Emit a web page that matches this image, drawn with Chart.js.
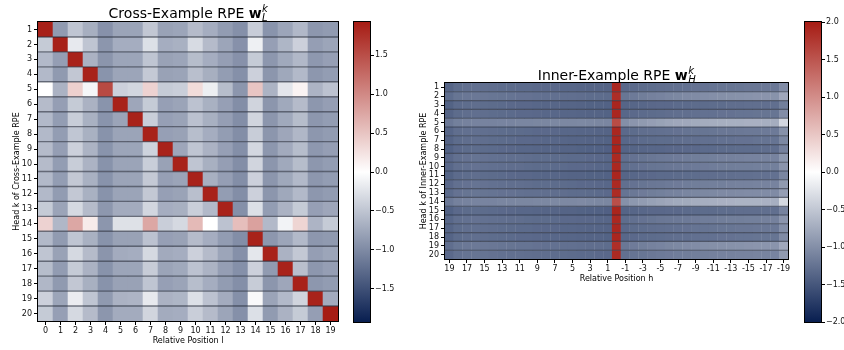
<!DOCTYPE html>
<html>
<head>
<meta charset="utf-8">
<title>RPE weights per head</title>
<script src="https://cdn.jsdelivr.net/npm/chart.js@4.4.1/dist/chart.umd.min.js"></script>
<style>
  html, body { margin: 0; padding: 0; background: #fff; }
  #wrap { position: relative; width: 844px; height: 350px; overflow: hidden; }
  #wrap canvas { position: absolute; top: 0; }
</style>
</head>
<body>
<div id="wrap">
  <canvas id="crossMap" width="345" height="350" style="left:0px"></canvas>
  <canvas id="crossBar" width="60" height="350" style="left:345px"></canvas>
  <canvas id="innerMap" width="390" height="350" style="left:405px"></canvas>
  <canvas id="innerBar" width="49" height="350" style="left:795px"></canvas>
</div>
<script>
// ---- data ----
const crossPositions = [0, 1, 2, 3, 4, 5, 6, 7, 8, 9, 10, 11, 12, 13, 14, 15, 16, 17, 18, 19];
const crossHeads = [1, 2, 3, 4, 5, 6, 7, 8, 9, 10, 11, 12, 13, 14, 15, 16, 17, 18, 19, 20];
// one row per head k, one value per relative position l
const crossValues = [
  [1.90, -0.86, -0.50, -0.69, -0.94, -0.78, -0.78, -0.48, -0.80, -0.77, -0.58, -0.70, -0.85, -0.95, -0.43, -0.92, -0.77, -0.61, -0.89, -0.86],
  [-0.45, 1.90, -0.19, -0.50, -0.90, -0.70, -0.70, -0.27, -0.70, -0.67, -0.31, -0.58, -0.77, -0.94, -0.13, -0.82, -0.63, -0.40, -0.83, -0.77],
  [-0.60, -0.83, 1.88, -0.66, -0.91, -0.77, -0.77, -0.50, -0.80, -0.77, -0.57, -0.70, -0.83, -0.94, -0.45, -0.89, -0.74, -0.61, -0.88, -0.82],
  [-0.60, -0.87, -0.48, 1.88, -0.92, -0.77, -0.77, -0.46, -0.80, -0.78, -0.55, -0.69, -0.84, -0.95, -0.40, -0.90, -0.75, -0.60, -0.89, -0.84],
  [0.00, -0.66, 0.40, -0.08, 1.54, -0.40, -0.35, 0.38, -0.45, -0.42, 0.30, -0.14, -0.57, -0.90, 0.49, -0.65, -0.22, 0.10, -0.65, -0.52],
  [-0.58, -0.83, -0.45, -0.66, -0.92, 1.88, -0.76, -0.45, -0.82, -0.78, -0.52, -0.67, -0.82, -0.97, -0.37, -0.90, -0.74, -0.58, -0.89, -0.83],
  [-0.60, -0.84, -0.43, -0.67, -0.92, -0.78, 1.88, -0.42, -0.82, -0.79, -0.53, -0.68, -0.83, -0.97, -0.36, -0.90, -0.74, -0.57, -0.89, -0.84],
  [-0.60, -0.84, -0.49, -0.67, -0.93, -0.78, -0.78, 1.88, -0.82, -0.80, -0.56, -0.70, -0.84, -0.97, -0.43, -0.90, -0.76, -0.62, -0.89, -0.85],
  [-0.58, -0.83, -0.40, -0.65, -0.92, -0.77, -0.77, -0.38, 1.88, -0.76, -0.50, -0.66, -0.82, -0.96, -0.34, -0.89, -0.73, -0.57, -0.88, -0.83],
  [-0.58, -0.84, -0.43, -0.65, -0.93, -0.78, -0.78, -0.42, -0.80, 1.88, -0.50, -0.68, -0.83, -0.97, -0.36, -0.90, -0.74, -0.57, -0.89, -0.84],
  [-0.60, -0.84, -0.47, -0.67, -0.93, -0.78, -0.78, -0.46, -0.82, -0.78, 1.88, -0.68, -0.83, -0.97, -0.40, -0.90, -0.75, -0.60, -0.89, -0.84],
  [-0.60, -0.85, -0.47, -0.67, -0.93, -0.78, -0.78, -0.47, -0.82, -0.79, -0.55, 1.88, -0.84, -0.97, -0.40, -0.90, -0.75, -0.60, -0.89, -0.85],
  [-0.45, -0.78, -0.33, -0.58, -0.89, -0.72, -0.72, -0.35, -0.70, -0.68, -0.42, -0.60, 1.88, -0.95, -0.27, -0.84, -0.66, -0.45, -0.82, -0.76],
  [0.38, -0.62, 0.75, 0.17, -0.90, -0.26, -0.26, 0.75, -0.42, -0.33, 0.59, 0.00, -0.52, 0.55, 0.80, -0.60, -0.10, 0.36, -0.64, -0.45],
  [-0.60, -0.86, -0.50, -0.67, -0.93, -0.80, -0.80, -0.52, -0.82, -0.80, -0.58, -0.70, -0.85, -0.97, 1.88, -0.89, -0.77, -0.60, -0.89, -0.87],
  [-0.50, -0.80, -0.33, -0.58, -0.91, -0.72, -0.70, -0.33, -0.73, -0.70, -0.40, -0.58, -0.77, -0.95, -0.21, 1.88, -0.66, -0.47, -0.83, -0.77],
  [-0.57, -0.85, -0.45, -0.66, -0.93, -0.77, -0.77, -0.44, -0.78, -0.74, -0.52, -0.65, -0.83, -0.95, -0.40, -0.86, 1.88, -0.55, -0.89, -0.83],
  [-0.62, -0.87, -0.48, -0.68, -0.93, -0.80, -0.80, -0.50, -0.82, -0.78, -0.56, -0.70, -0.85, -0.96, -0.44, -0.90, -0.76, 1.88, -0.89, -0.85],
  [-0.40, -0.77, -0.16, -0.50, -0.87, -0.66, -0.64, -0.19, -0.66, -0.63, -0.27, -0.52, -0.72, -0.95, -0.05, -0.78, -0.60, -0.37, 1.88, -0.72],
  [-0.45, -0.82, -0.33, -0.58, -0.90, -0.72, -0.72, -0.36, -0.72, -0.70, -0.42, -0.58, -0.77, -0.95, -0.27, -0.86, -0.66, -0.45, -0.83, 1.93]
];

const innerPositions = [19, 18, 17, 16, 15, 14, 13, 12, 11, 10, 9, 8, 7, 6, 5, 4, 3, 2, 1, 0,
  -1, -2, -3, -4, -5, -6, -7, -8, -9, -10, -11, -12, -13, -14, -15, -16, -17, -18, -19];
const innerHeads = [1, 2, 3, 4, 5, 6, 7, 8, 9, 10, 11, 12, 13, 14, 15, 16, 17, 18, 19, 20];
// one row per head k, one value per relative position h (19 ... -19)
const innerValues = [
  [-1.37,-1.30,-1.28,-1.27,-1.28,-1.29,-1.30,-1.31,-1.32,-1.32,-1.33,-1.34,-1.34,-1.35,-1.35,-1.36,-1.37,-1.37,-1.38, 1.90, -1.34,-1.32,-1.31,-1.30,-1.29,-1.28,-1.27,-1.26,-1.25,-1.25,-1.24,-1.23,-1.23,-1.22,-1.21,-1.21,-1.20,-1.20,-1.02],
  [-1.30,-1.23,-1.21,-1.20,-1.21,-1.22,-1.23,-1.24,-1.25,-1.25,-1.26,-1.27,-1.27,-1.28,-1.28,-1.29,-1.30,-1.30,-1.31, 1.84, -1.22,-1.18,-1.15,-1.12,-1.10,-1.08,-1.06,-1.04,-1.03,-1.01,-1.00,-0.99,-0.98,-0.97,-0.96,-0.95,-0.95,-0.96,-0.78],
  [-1.39,-1.32,-1.30,-1.29,-1.30,-1.31,-1.32,-1.33,-1.34,-1.34,-1.35,-1.36,-1.36,-1.37,-1.37,-1.38,-1.39,-1.39,-1.40, 1.91, -1.37,-1.36,-1.35,-1.34,-1.33,-1.33,-1.32,-1.32,-1.31,-1.31,-1.30,-1.30,-1.29,-1.29,-1.28,-1.28,-1.28,-1.28,-1.14],
  [-1.38,-1.31,-1.29,-1.28,-1.29,-1.30,-1.31,-1.32,-1.33,-1.33,-1.34,-1.35,-1.35,-1.36,-1.36,-1.37,-1.38,-1.38,-1.39, 1.90, -1.35,-1.33,-1.32,-1.31,-1.30,-1.29,-1.28,-1.28,-1.27,-1.26,-1.26,-1.25,-1.25,-1.24,-1.24,-1.23,-1.23,-1.23,-1.01],
  [-1.20,-1.13,-1.11,-1.10,-1.10,-1.10,-1.09,-1.09,-1.08,-1.08,-1.07,-1.07,-1.06,-1.06,-1.06,-1.05,-1.06,-1.07,-1.08, 1.58, -1.00,-0.94,-0.90,-0.86,-0.83,-0.80,-0.78,-0.77,-0.75,-0.74,-0.73,-0.72,-0.71,-0.71,-0.70,-0.70,-0.71,-0.73,-0.36],
  [-1.36,-1.29,-1.27,-1.27,-1.28,-1.29,-1.30,-1.31,-1.31,-1.32,-1.33,-1.33,-1.34,-1.35,-1.35,-1.36,-1.36,-1.37,-1.38, 1.90, -1.33,-1.31,-1.29,-1.28,-1.27,-1.26,-1.25,-1.24,-1.23,-1.23,-1.22,-1.21,-1.21,-1.20,-1.19,-1.19,-1.18,-1.18,-0.98],
  [-1.38,-1.31,-1.29,-1.28,-1.29,-1.30,-1.31,-1.32,-1.33,-1.33,-1.34,-1.35,-1.35,-1.36,-1.37,-1.37,-1.38,-1.38,-1.39, 1.91, -1.35,-1.33,-1.32,-1.31,-1.30,-1.30,-1.29,-1.28,-1.28,-1.27,-1.27,-1.26,-1.26,-1.25,-1.25,-1.24,-1.24,-1.24,-1.06],
  [-1.40,-1.33,-1.31,-1.30,-1.31,-1.32,-1.33,-1.34,-1.35,-1.35,-1.36,-1.37,-1.37,-1.38,-1.38,-1.39,-1.40,-1.40,-1.41, 1.92, -1.38,-1.37,-1.36,-1.35,-1.35,-1.34,-1.34,-1.33,-1.33,-1.32,-1.32,-1.31,-1.31,-1.30,-1.30,-1.30,-1.29,-1.29,-1.12],
  [-1.34,-1.27,-1.25,-1.24,-1.25,-1.26,-1.27,-1.28,-1.28,-1.29,-1.30,-1.30,-1.31,-1.31,-1.32,-1.32,-1.33,-1.34,-1.35, 1.88, -1.28,-1.25,-1.23,-1.21,-1.19,-1.18,-1.17,-1.16,-1.15,-1.14,-1.13,-1.12,-1.12,-1.11,-1.10,-1.10,-1.10,-1.10,-0.92],
  [-1.35,-1.28,-1.26,-1.25,-1.26,-1.27,-1.28,-1.29,-1.29,-1.30,-1.31,-1.31,-1.32,-1.32,-1.33,-1.33,-1.34,-1.35,-1.36, 1.89, -1.30,-1.27,-1.25,-1.23,-1.22,-1.21,-1.20,-1.19,-1.18,-1.17,-1.16,-1.15,-1.15,-1.14,-1.14,-1.13,-1.13,-1.13,-0.95],
  [-1.39,-1.32,-1.30,-1.29,-1.30,-1.31,-1.32,-1.33,-1.34,-1.34,-1.35,-1.36,-1.36,-1.37,-1.38,-1.38,-1.39,-1.39,-1.40, 1.91, -1.37,-1.35,-1.34,-1.33,-1.32,-1.32,-1.31,-1.30,-1.30,-1.29,-1.29,-1.28,-1.28,-1.27,-1.27,-1.26,-1.26,-1.26,-1.08],
  [-1.34,-1.27,-1.25,-1.24,-1.25,-1.26,-1.27,-1.28,-1.28,-1.29,-1.30,-1.30,-1.31,-1.31,-1.32,-1.33,-1.33,-1.34,-1.35, 1.88, -1.28,-1.25,-1.23,-1.21,-1.20,-1.18,-1.17,-1.16,-1.15,-1.14,-1.13,-1.13,-1.12,-1.11,-1.11,-1.10,-1.10,-1.10,-0.90],
  [-1.32,-1.25,-1.23,-1.22,-1.23,-1.24,-1.25,-1.25,-1.26,-1.27,-1.27,-1.28,-1.29,-1.29,-1.30,-1.30,-1.31,-1.32,-1.33, 1.86, -1.24,-1.20,-1.17,-1.15,-1.13,-1.11,-1.10,-1.08,-1.07,-1.06,-1.05,-1.04,-1.04,-1.03,-1.02,-1.02,-1.02,-1.03,-0.86],
  [-1.19,-1.12,-1.10,-1.09,-1.09,-1.09,-1.08,-1.08,-1.07,-1.07,-1.06,-1.06,-1.05,-1.05,-1.05,-1.04,-1.05,-1.06,-1.07, 1.55, -0.98,-0.92,-0.88,-0.84,-0.81,-0.78,-0.76,-0.75,-0.73,-0.72,-0.71,-0.70,-0.69,-0.68,-0.68,-0.68,-0.69,-0.71,-0.34],
  [-1.40,-1.33,-1.31,-1.30,-1.31,-1.32,-1.33,-1.34,-1.35,-1.35,-1.36,-1.37,-1.37,-1.38,-1.38,-1.39,-1.40,-1.40,-1.41, 1.92, -1.38,-1.36,-1.35,-1.34,-1.34,-1.33,-1.33,-1.32,-1.32,-1.31,-1.31,-1.30,-1.30,-1.29,-1.29,-1.29,-1.28,-1.28,-1.10],
  [-1.35,-1.28,-1.26,-1.25,-1.26,-1.27,-1.28,-1.29,-1.29,-1.30,-1.31,-1.31,-1.32,-1.33,-1.33,-1.34,-1.34,-1.35,-1.36, 1.89, -1.30,-1.27,-1.25,-1.23,-1.21,-1.20,-1.19,-1.18,-1.17,-1.16,-1.16,-1.15,-1.14,-1.14,-1.13,-1.13,-1.12,-1.12,-0.94],
  [-1.37,-1.30,-1.28,-1.27,-1.28,-1.29,-1.30,-1.31,-1.32,-1.32,-1.33,-1.34,-1.34,-1.35,-1.35,-1.36,-1.37,-1.37,-1.38, 1.90, -1.34,-1.31,-1.30,-1.29,-1.28,-1.27,-1.26,-1.25,-1.24,-1.24,-1.23,-1.22,-1.22,-1.21,-1.21,-1.20,-1.20,-1.20,-1.00],
  [-1.38,-1.31,-1.29,-1.28,-1.29,-1.30,-1.31,-1.32,-1.33,-1.33,-1.34,-1.35,-1.35,-1.36,-1.36,-1.37,-1.38,-1.38,-1.39, 1.90, -1.35,-1.33,-1.32,-1.31,-1.30,-1.29,-1.28,-1.28,-1.27,-1.26,-1.26,-1.25,-1.25,-1.24,-1.24,-1.23,-1.23,-1.23,-1.03],
  [-1.29,-1.22,-1.20,-1.19,-1.20,-1.21,-1.22,-1.23,-1.24,-1.24,-1.25,-1.26,-1.26,-1.27,-1.27,-1.28,-1.29,-1.29,-1.30, 1.83, -1.21,-1.17,-1.14,-1.11,-1.09,-1.07,-1.05,-1.03,-1.02,-1.00,-0.99,-0.98,-0.97,-0.96,-0.95,-0.94,-0.94,-0.95,-0.77],
  [-1.33,-1.26,-1.24,-1.23,-1.24,-1.25,-1.26,-1.27,-1.27,-1.28,-1.29,-1.29,-1.30,-1.30,-1.31,-1.32,-1.32,-1.33,-1.34, 1.88, -1.27,-1.24,-1.22,-1.20,-1.18,-1.17,-1.16,-1.15,-1.14,-1.13,-1.12,-1.11,-1.11,-1.10,-1.10,-1.09,-1.09,-1.09,-0.90]
];

const CROSS_VMAX = 1.93;
const INNER_VMAX = 2.0;
const crossBarTicks = [-1.5, -1.0, -0.5, 0.0, 0.5, 1.0, 1.5];
const innerBarTicks = [-2.0, -1.5, -1.0, -0.5, 0.0, 0.5, 1.0, 1.5, 2.0];

// ---- styling helpers ----
Chart.defaults.font.family = '"DejaVu Sans", sans-serif';
Chart.defaults.font.size = 8;
Chart.defaults.color = '#111';

const NAVY = [8, 30, 80];
const WHITE = [255, 255, 255];
const RED = [166, 28, 20];

// diverging navy -> white -> red, linear in each half
function rpeColor(v, vmax) {
  const t = Math.max(-1, Math.min(1, v / vmax));
  const end = t < 0 ? NAVY : RED;
  const a = Math.abs(t);
  const c = WHITE.map((w, i) => Math.round(w + (end[i] - w) * a));
  return 'rgb(' + c.join(',') + ')';
}

const signed = v => (v < 0 ? '\u2212' : '') + Math.abs(v).toFixed(1);

// dark rules between head rows plus the black frame
const rowRules = {
  id: 'rowRules',
  afterDatasetsDraw(chart, args, opts) {
    const { ctx, chartArea: a, scales: { y } } = chart;
    ctx.save();
    if (opts.rows) {
      ctx.strokeStyle = 'rgba(35, 40, 55, 0.6)';
      ctx.lineWidth = opts.width || 1.2;
      for (let k = 1; k < opts.rows; k++) {
        const py = y.getPixelForValue(k + 0.5);
        ctx.beginPath();
        ctx.moveTo(a.left, py);
        ctx.lineTo(a.right, py);
        ctx.stroke();
      }
    }
    ctx.strokeStyle = '#000';
    ctx.lineWidth = 1;
    ctx.strokeRect(a.left - 0.5, a.top - 0.5, a.width + 1, a.height + 1);
    ctx.restore();
  }
};

// title with a bold vector symbol carrying sub- and superscript
const mathTitle = {
  id: 'mathTitle',
  afterDraw(chart, args, o) {
    if (!o.text) return;
    const { ctx, chartArea: a } = chart;
    const fam = '"DejaVu Sans", sans-serif';
    ctx.save();
    ctx.fillStyle = '#000';
    ctx.textAlign = 'left';
    ctx.textBaseline = 'alphabetic';
    const head = o.text + ' ';
    ctx.font = '14px ' + fam;
    const wHead = ctx.measureText(head).width;
    ctx.font = 'bold 14px ' + fam;
    const wSym = ctx.measureText(o.symbol).width;
    ctx.font = 'italic 10px ' + fam;
    const wIdx = Math.max(ctx.measureText(o.sup).width, ctx.measureText(o.sub).width);
    let x = (a.left + a.right) / 2 - (wHead + wSym + wIdx) / 2;
    ctx.font = '14px ' + fam;
    ctx.fillText(head, x, o.baseline);
    x += wHead;
    ctx.font = 'bold 14px ' + fam;
    ctx.fillText(o.symbol, x, o.baseline);
    x += wSym + 0.5;
    ctx.font = 'italic 10px ' + fam;
    ctx.fillText(o.sup, x, o.baseline - 6);
    ctx.fillText(o.sub, x, o.baseline + 3);
    ctx.restore();
  }
};

// one floating-bar dataset per head row, coloured by value
function heatDatasets(values, vmax) {
  return values.map((row, r) => ({
    label: 'Head ' + (r + 1),
    data: row.map(() => [r + 0.5, r + 1.5]),
    backgroundColor: row.map(v => rpeColor(v, vmax)),
    borderWidth: 0,
    barPercentage: 1.04,
    categoryPercentage: 1,
    grouped: false
  }));
}

function heatmap(id, cfg) {
  return new Chart(document.getElementById(id), {
    type: 'bar',
    data: { labels: cfg.positions.map(String), datasets: heatDatasets(cfg.values, cfg.vmax) },
    plugins: [rowRules, mathTitle],
    options: {
      responsive: false,
      animation: false,
      events: [],
      layout: { padding: cfg.padding },
      plugins: {
        legend: { display: false },
        tooltip: { enabled: false },
        rowRules: { rows: cfg.heads.length, width: cfg.ruleWidth },
        mathTitle: cfg.title
      },
      scales: {
        x: {
          type: 'category',
          offset: true,
          border: { display: false },
          grid: {
            drawOnChartArea: false,
            offset: false,
            tickLength: 4,
            tickColor: c => (cfg.every2 && c.index % 2 === 1) ? 'rgba(0,0,0,0)' : '#000'
          },
          ticks: {
            autoSkip: false,
            maxRotation: 0,
            padding: 1,
            callback: (v, i) => (cfg.every2 && i % 2 === 1) ? '' : String(cfg.positions[i])
          },
          title: { display: true, text: cfg.xTitle, color: '#000', padding: { top: 0, bottom: 4 } },
          afterFit: s => { s.height = 29; }
        },
        y: {
          type: 'linear',
          min: 0.5,
          max: cfg.heads.length + 0.5,
          reverse: true,
          afterBuildTicks: s => { s.ticks = cfg.heads.map(v => ({ value: v })); },
          border: { display: false },
          grid: { drawOnChartArea: false, tickLength: 4, tickColor: '#000' },
          ticks: { autoSkip: false, padding: 2 },
          title: { display: true, text: cfg.yTitle, color: '#000', padding: { top: cfg.yTitlePad, bottom: 0 } },
          afterFit: s => { s.width = cfg.yWidth; }
        }
      }
    }
  });
}

function colorbar(id, vmax, ticks, cfg) {
  return new Chart(document.getElementById(id), {
    type: 'bar',
    data: {
      labels: [''],
      datasets: [{
        data: [[-vmax, vmax]],
        backgroundColor: ctx => {
          const { chart } = ctx;
          const y = chart.scales.y;
          if (!chart.chartArea || !y) return '#fff';
          const g = chart.ctx.createLinearGradient(0, y.getPixelForValue(vmax), 0, y.getPixelForValue(-vmax));
          g.addColorStop(0, 'rgb(' + RED.join(',') + ')');
          g.addColorStop(0.5, '#fff');
          g.addColorStop(1, 'rgb(' + NAVY.join(',') + ')');
          return g;
        },
        borderWidth: 0,
        barPercentage: 1,
        categoryPercentage: 1
      }]
    },
    plugins: [rowRules],
    options: {
      responsive: false,
      animation: false,
      events: [],
      layout: { padding: cfg.padding },
      plugins: { legend: { display: false }, tooltip: { enabled: false }, rowRules: { rows: 0 } },
      scales: {
        x: { display: false },
        y: {
          position: 'right',
          min: -vmax,
          max: vmax,
          afterBuildTicks: s => { s.ticks = ticks.map(v => ({ value: v })); },
          border: { display: false },
          grid: { drawOnChartArea: false, tickLength: 4, tickColor: '#000' },
          ticks: { autoSkip: false, padding: 1, callback: v => signed(v) },
          afterFit: s => { s.width = cfg.axisWidth; }
        }
      }
    }
  });
}

heatmap('crossMap', {
  positions: crossPositions,
  heads: crossHeads,
  values: crossValues,
  vmax: CROSS_VMAX,
  padding: { top: 22, right: 7, left: 0, bottom: 0 },
  yWidth: 38,
  yTitlePad: 12,
  ruleWidth: 1.4,
  every2: false,
  xTitle: 'Relative Position l',
  yTitle: 'Head k of Cross-Example RPE',
  title: { text: 'Cross-Example RPE', symbol: 'w', sup: 'k', sub: 'L', baseline: 18 }
});

colorbar('crossBar', CROSS_VMAX, crossBarTicks, {
  padding: { top: 22, left: 9, bottom: 28, right: 0 },
  axisWidth: 35
});

heatmap('innerMap', {
  positions: innerPositions,
  heads: innerHeads,
  values: innerValues,
  vmax: INNER_VMAX,
  padding: { top: 83, right: 7, left: 0, bottom: 62 },
  yWidth: 40,
  yTitlePad: 14,
  ruleWidth: 1.1,
  every2: true,
  xTitle: 'Relative Position h',
  yTitle: 'Head k of Inner-Example RPE',
  title: { text: 'Inner-Example RPE', symbol: 'w', sup: 'k', sub: 'H', baseline: 80 }
});

colorbar('innerBar', INNER_VMAX, innerBarTicks, {
  padding: { top: 22, left: 10, bottom: 28, right: 0 },
  axisWidth: 23
});
</script>
</body>
</html>
